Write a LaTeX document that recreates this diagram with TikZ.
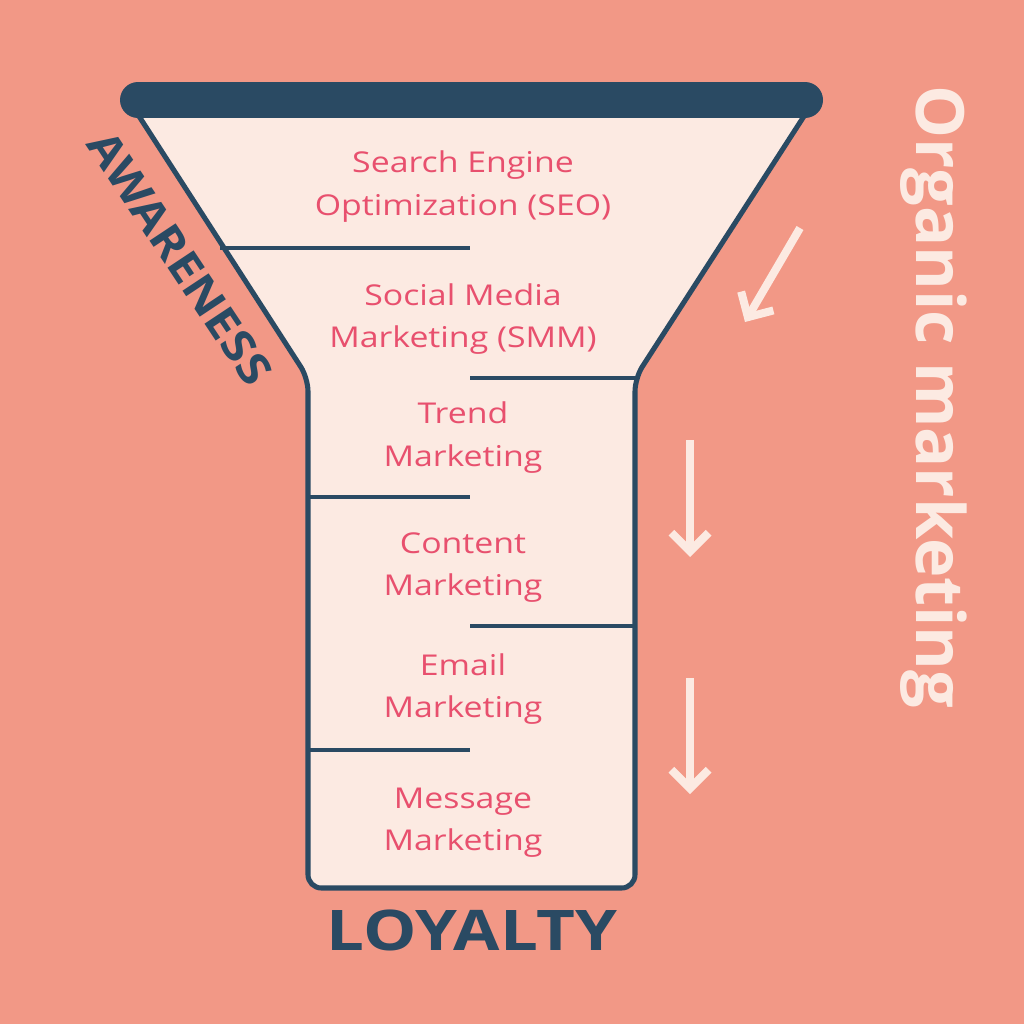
\documentclass[tikz,border=0pt]{standalone}
\usepackage{fontspec}
\setmainfont{Open Sans}
\usetikzlibrary{arrows.meta}
\definecolor{bg}{HTML}{F29886}
\definecolor{navy}{HTML}{2A4A63}
\definecolor{cream}{HTML}{FCEAE2}
\definecolor{pinktxt}{HTML}{E8506E}
\begin{document}
\begin{tikzpicture}[x=0.75pt,y=-0.75pt,
  lbl/.style={text=pinktxt,font=\fontsize{21.5}{25}\selectfont,anchor=base,xscale=1.18},
  sep/.style={draw=navy,line width=2.6pt},
  flow/.style={draw=cream,line width=6pt,-{Straight Barb[length=14pt,width=28pt,line width=6pt]}}]
\fill[bg] (0,0) rectangle (1024,1024);
\useasboundingbox (0,0) rectangle (1024,1024);
\draw[navy,line width=3.8pt,fill=cream,rounded corners=10pt] (135,110) -- (308,378) -- (308,888) -- (635,888) -- (635,378) -- (808,110);
\draw[navy,line width=27pt,line cap=round] (138,100) -- (805,100);
\draw[sep] (220,248) -- (470,248);
\draw[sep] (470,378) -- (635,378);
\draw[sep] (308,497) -- (470,497);
\draw[sep] (470,626) -- (635,626);
\draw[sep] (308,750) -- (470,750);
\node[lbl] (t1) at (463,172) {Search Engine};
\node[lbl] (t2) at (463,215) {Optimization (SEO)};
\node[lbl] (t3) at (463,305) {Social Media};
\node[lbl] (t4) at (463,347) {Marketing (SMM)};
\node[lbl] (t5) at (463,423) {Trend};
\node[lbl] (t6) at (463,466) {Marketing};
\node[lbl] (t7) at (463,553) {Content};
\node[lbl] (t8) at (463,595) {Marketing};
\node[lbl] (t9) at (463,675) {Email};
\node[lbl] (t10) at (463,717) {Marketing};
\node[lbl] (t11) at (463,808) {Message};
\node[lbl] (t12) at (463,850) {Marketing};
\node[text=navy,font=\bfseries\fontsize{33}{33}\selectfont,rotate=-56.4,inner sep=0pt,xscale=1.12] (aw) at (180,258) {AWARENESS};
\node[text=navy,font=\bfseries\fontsize{42}{42}\selectfont,xscale=1.2] (loy) at (472,930) {LOYALTY};
\node[text=cream,font=\bfseries\fontsize{50}{50}\selectfont,rotate=-90] (org) at (934,397) {Organic marketing};
\coordinate (a1s) at (800,228); \coordinate (a1e) at (745,322);
\coordinate (a2s) at (690,440); \coordinate (a2e) at (690,557);
\coordinate (a3s) at (690,678); \coordinate (a3e) at (690,794);
\draw[flow] (a1s) -- (a1e);
\draw[flow] (a2s) -- (a2e);
\draw[flow] (a3s) -- (a3e);
\end{tikzpicture}
\end{document}
